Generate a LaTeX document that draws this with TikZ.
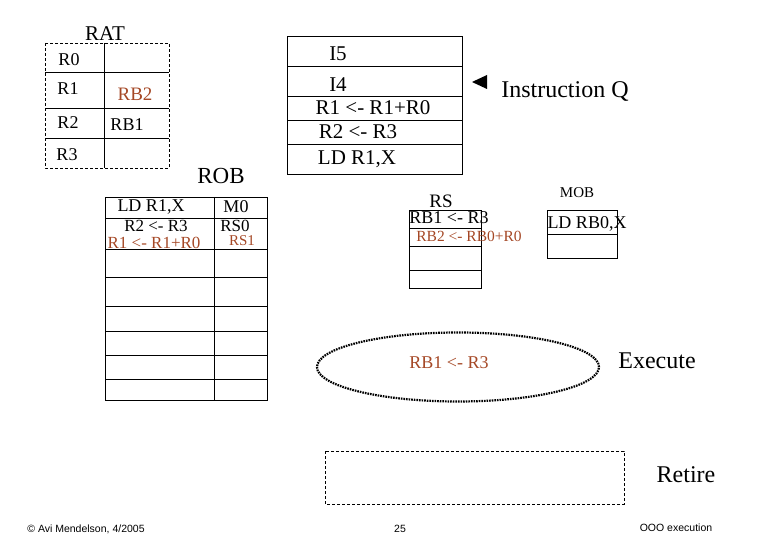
\documentclass[tikz,border=0pt]{standalone}
\usepackage{fontspec}
\setmainfont{Liberation Serif}
\newfontfamily\footfont{Liberation Sans}
\usetikzlibrary{shapes.geometric}
\definecolor{rust}{RGB}{165,72,38}
\tikzset{
  txt/.style={inner sep=0pt, font=\fontsize{#1}{#1}\selectfont},
  txt/.default=18,
  btxt/.style={txt=#1, text=rust},
  btxt/.default=18,
  grid/.style={line width=0.8pt},
  dashbox/.style={line width=0.8pt, dash pattern=on 3pt off 2pt},
  foot/.style={inner sep=0pt, font=\footfont\fontsize{10.5}{10.5}\selectfont},
}
\begin{document}
\begin{tikzpicture}[x=1pt,y=-1pt]
\useasboundingbox (0,0) rectangle (780,540);
% RAT
\draw[dashbox] (45,43) rectangle (169,168);
\draw[grid] (104,43) -- (104,168);
\draw[grid] (45,72) -- (169,72) (45,108) -- (169,108) (45,138) -- (169,138);
\node[txt=21] (rat) at (105,34) {RAT};
\node[txt] (r0) at (69,60) {R0};
\node[txt] (r1) at (68,89) {R1};
\node[txt] (r2) at (68,123) {R2};
\node[txt] (r3) at (67,155) {R3};
\node[btxt=19] (rb2) at (135,94) {RB2};
\node[txt] (rb1) at (127,125) {RB1};
% ROB
\node[txt=23] (rob) at (221,176) {ROB};
\draw[grid] (105,197) rectangle (267,400);
\draw[grid] (214,197) -- (214,400);
\foreach \yy in {218,249,277,306,331,355,379} \draw[grid] (105,\yy) -- (267,\yy);
\node[txt=18] (rob1) at (151,207) {LD R1,X};
\node[txt=17] (rob2) at (156,226) {R2 <- R3};
\node[btxt=17] (rob3) at (154,243) {R1 <- R1+R0};
\node[txt=18] (robm0) at (236,207) {M0};
\node[txt=17] (robrs0) at (235,226) {RS0};
\node[btxt=15] (robrs1) at (242,241) {RS1};
% Instruction Q
\draw[grid] (287,36) rectangle (462,174);
\foreach \yy in {66,96,120,144} \draw[grid] (287,\yy) -- (462,\yy);
\node[txt=21] (i5) at (338,54) {I5};
\node[txt=21] (i4) at (338,85) {I4};
\node[txt=21] (iq3) at (373,108) {R1 <- R1+R0};
\node[txt=21] (iq2) at (358,132) {R2 <- R3};
\node[txt=21] (iq1) at (357,159) {LD R1,X};
\fill (472,82) -- (487,75) -- (487,89) -- cycle;
\node[txt=24] (iqlabel) at (565,92) {Instruction Q};
% RS
\node[txt=19] (rs) at (441,201) {RS};
\draw[grid] (409,210) rectangle (481,288);
\foreach \yy in {228,246,270} \draw[grid] (409,\yy) -- (481,\yy);
\node[txt=18] (rs1) at (449,218) {RB1 <- R3};
\node[btxt=15.5] (rs2) at (469,236) {RB2 <- RB0+R0};
% MOB
\node[txt=15] (mob) at (577,193) {MOB};
\draw[grid] (547,210) rectangle (617,258);
\draw[grid] (547,234) -- (617,234);
\node[txt=18] (mob1) at (587,224) {LD RB0,X};
% Execute
\node[ellipse, draw, line width=2.2pt, dash pattern=on 1.6pt off 1pt, minimum width=282pt, minimum height=69pt, inner sep=0pt] (ex) at (458,367) {};
\node[btxt=18] (exin) at (449,363) {RB1 <- R3};
\node[txt=24] (exlabel) at (657,361) {Execute};
% Retire
\draw[dashbox] (325,451) rectangle (624,504);
\node[txt=24] (retire) at (686,475) {Retire};
% footer
\node[foot] (copy) at (86,529) {© Avi Mendelson, 4/2005};
\node[foot] (page) at (400,529) {25};
\node[foot] (title) at (676,528) {OOO execution};
\end{tikzpicture}
\end{document}
